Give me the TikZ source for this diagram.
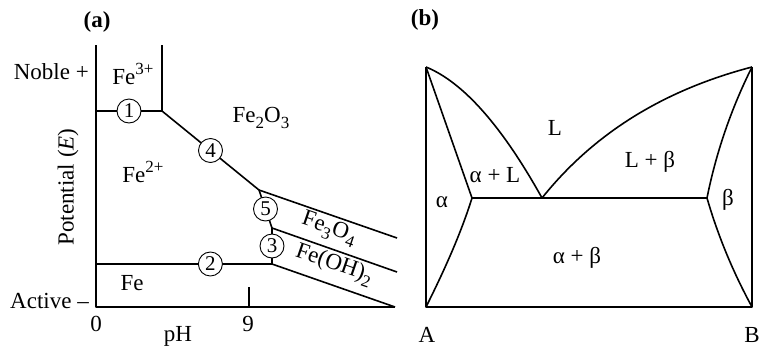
\documentclass[tikz,border=0pt]{standalone}
\usepackage{fontspec}
\setmainfont{Liberation Serif}
\usetikzlibrary{positioning,calc}
\newcommand{\up}[1]{\raisebox{0.42em}{\fontsize{17}{17}\selectfont #1}}
\newcommand{\dn}[1]{\raisebox{-0.28em}{\fontsize{17}{17}\selectfont #1}}

\begin{document}
\begin{tikzpicture}[x=1pt,y=-1pt,
  every node/.style={font=\fontsize{23}{25}\selectfont,inner sep=0pt},
  phase/.style={line width=1.6pt,line join=round},
  num/.style={circle,draw,fill=white,line width=0.9pt,minimum size=24pt,
    font=\fontsize{21}{22}\selectfont}]
\useasboundingbox (0,0) rectangle (759,346);
% (a) Pourbaix diagram
\coordinate (a0) at (96,307);
\coordinate (atop) at (96,45);
\coordinate (aend) at (395,307);
\coordinate (f3top) at (162,45);
\coordinate (f3) at (162,111);
\coordinate (e1) at (96,111);
\coordinate (t4) at (259,190);
\coordinate (t5) at (272,228);
\coordinate (t3) at (272,264);
\coordinate (e2) at (96,264);
\coordinate (r1) at (397,238);
\coordinate (r2) at (397,272);
\coordinate (tick) at (249,287);
\draw[phase] (atop) -- (a0) -- (aend);
\draw[phase] (f3top) -- (f3);
\draw[phase] (e1) -- (f3) -- (t4) -- (t5) -- (t3) -- (e2);
\draw[phase] (t4) -- (r1);
\draw[phase] (t5) -- (r2);
\draw[phase] (t3) -- (aend);
\draw[phase] (tick) -- (tick |- a0);
\node[num] (c1) at ($(e1)!0.5!(f3)$) {1};
\node[num] (c4) at ($(f3)!0.5!(t4)$) {4};
\node[num] (c5) at ($(t4)!0.5!(t5)$) {5};
\node[num] (c3) at ($(t5)!0.5!(t3)$) {3};
\node[num] (c2) at ($(e2)!0.65!(t3)$) {2};
\node (la) at (97,22) {\textbf{(a)}};
\node[anchor=east] (noble) at (89,72) {Noble +};
\node[anchor=east] (active) at (89,301) {Active –};
\node (zero) at (96,324) {0};
\node (nine) at (248,324) {9};
\node (ph) at (178,336) {pH};
\node[rotate=90] (pot) at (68,187) {Potential (\textit{E})};
\node (fe3) at (133,74) {Fe\up{3+}};
\node (fe2o3) at (261,118) {Fe\dn{2}O\dn{3}};
\node (fe2) at (143,172) {Fe\up{2+}};
\node (fe) at (132,283) {Fe};
\node[rotate=-19] (fe3o4) at (329,229) {Fe\dn{3}O\dn{4}};
\node[rotate=-19] (feoh) at (334,265) {Fe(OH)\dn{2}};
% (b) eutectic phase diagram
\coordinate (at) at (426,67);
\coordinate (ab) at (426,307);
\coordinate (bt) at (752,67);
\coordinate (bb) at (752,307);
\coordinate (s1) at (472,198);
\coordinate (eu) at (542,198);
\coordinate (s2) at (707,198);
\draw[phase] (bt) -- (bb) -- (ab) -- (at);
\draw[phase] (s1) -- (s2);
\draw[phase] (at) .. controls (463,82) and (502,126) .. (eu);
\draw[phase] (eu) .. controls (594,133) and (664,90) .. (bt);
\draw[phase] (at) -- (s1);
\draw[phase] (s1) .. controls (461,233) and (445,269) .. (ab);
\draw[phase] (bt) .. controls (731,109) and (716,153) .. (s2);
\draw[phase] (s2) .. controls (718,236) and (733,272) .. (bb);
\node (lb) at (425,20) {\textbf{(b)}};
\node (liq) at (555,128) {L};
\node (lbeta) at (650,162) {L + β};
\node (alphal) at (495,175) {α + L};
\node (alpha) at (442,202) {α};
\node (beta) at (728,200) {β};
\node (ab2) at (577,258) {α + β};
\node (lA) at (427,335) {A};
\node (lB) at (752,335) {B};
\end{tikzpicture}
\end{document}
